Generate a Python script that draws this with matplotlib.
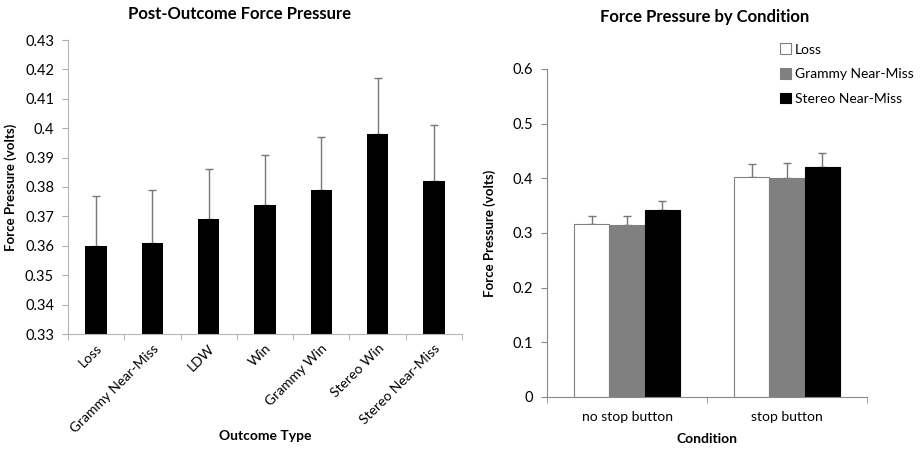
import numpy as np
import matplotlib
matplotlib.use('Agg')
import matplotlib.pyplot as plt

plt.rcParams['font.family'] = ['Lato', 'DejaVu Sans']

# Panel kiri: tekanan setelah hasil
outcome_types = ['Loss', 'Grammy Near-Miss', 'LDW', 'Win', 'Grammy Win', 'Stereo Win', 'Stereo Near-Miss']
outcome_means = [0.360, 0.361, 0.369, 0.374, 0.379, 0.398, 0.382]
outcome_err = [0.017, 0.018, 0.017, 0.017, 0.018, 0.019, 0.019]

# Panel kanan: tekanan per kondisi
conditions = ['no stop button', 'stop button']
series_names = ['Loss', 'Grammy Near-Miss', 'Stereo Near-Miss']
loss_vals = [0.317, 0.403]
grammy_vals = [0.315, 0.401]
stereo_vals = [0.342, 0.421]
loss_err = [0.015, 0.024]
grammy_err = [0.017, 0.027]
stereo_err = [0.017, 0.026]

fig = plt.figure(figsize=(9.21, 4.49), dpi=100)

# ---- kiri ----
ax1 = fig.add_axes([68/921, 1-334/449, (462-68)/921, (334-40)/449])
x1 = np.arange(len(outcome_types))
ax1.bar(x1, outcome_means, width=0.38, color='black', zorder=2)
ax1.errorbar(x1, outcome_means, yerr=[np.zeros(len(outcome_err)), outcome_err],
             fmt='none', ecolor='#777777', elinewidth=1, capsize=3, capthick=1, zorder=1)
ax1.set_ylim(0.33, 0.43)
ax1.set_xlim(-0.5, len(outcome_types) - 0.5)
ax1.set_yticks(np.arange(0.33, 0.4301, 0.01))
ax1.set_yticklabels(['0.33', '0.34', '0.35', '0.36', '0.37', '0.38', '0.39', '0.4', '0.41', '0.42', '0.43'])
ax1.set_xticks(x1)
ax1.set_xticklabels(outcome_types, rotation=45, ha='right', rotation_mode='anchor')
ax1.set_xticks(np.arange(-0.5, len(outcome_types)), minor=True)
ax1.tick_params(axis='x', which='major', length=0, labelsize=10, pad=6)
ax1.tick_params(axis='x', which='minor', length=4, color='#aaaaaa')
ax1.tick_params(axis='y', length=4, color='#aaaaaa', labelsize=10.5, pad=6)
for s in ['top', 'right']:
    ax1.spines[s].set_visible(False)
ax1.spines['left'].set_color('#b5b5b5')
ax1.spines['bottom'].set_color('#b5b5b5')
ax1.set_ylabel('Force Pressure (volts)', fontsize=9.5, fontweight='bold', labelpad=6)
fig.text(240/921, 1-14/449, 'Post-Outcome Force Pressure', ha='center', va='center',
         fontsize=12, fontweight='bold')
fig.text(265/921, 1-436/449, 'Outcome Type', ha='center', va='center',
         fontsize=10, fontweight='bold')

# ---- kanan ----
ax2 = fig.add_axes([547/921, 1-397/449, (867-547)/921, (397-69)/449])
x2 = np.arange(len(conditions))
w = 0.22
vals = [loss_vals, grammy_vals, stereo_vals]
errs = [loss_err, grammy_err, stereo_err]
colors = ['white', '#808080', 'black']
for i, (v, e, c, n) in enumerate(zip(vals, errs, colors, series_names)):
    pos = x2 + (i - 1) * w
    ax2.bar(pos, v, width=w, color=c, edgecolor='#808080' if c == 'white' else c,
            linewidth=0.8, label=n, zorder=2)
    ax2.errorbar(pos, v, yerr=[np.zeros(len(e)), e], fmt='none', ecolor='#777777',
                 elinewidth=1, capsize=3, capthick=1, zorder=1)
ax2.set_ylim(0, 0.6)
ax2.set_xlim(-0.5, len(conditions) - 0.5)
ax2.set_yticks([0, 0.1, 0.2, 0.3, 0.4, 0.5, 0.6])
ax2.set_yticklabels(['0', '0.1', '0.2', '0.3', '0.4', '0.5', '0.6'])
ax2.set_xticks(x2)
ax2.set_xticklabels(conditions)
ax2.set_xticks(np.arange(-0.5, len(conditions)), minor=True)
ax2.tick_params(axis='x', which='major', length=0, labelsize=10, pad=10)
ax2.tick_params(axis='x', which='minor', length=4, color='#888888')
ax2.tick_params(axis='y', length=4, color='#888888', labelsize=10.5, pad=6)
for s in ['top', 'right']:
    ax2.spines[s].set_visible(False)
ax2.spines['left'].set_color('#888888')
ax2.spines['bottom'].set_color('#888888')
ax2.set_ylabel('Force Pressure (volts)', fontsize=9.5, fontweight='bold', labelpad=12)
ax2.set_xlabel('Condition', fontsize=10, fontweight='bold', labelpad=7)
fig.text(705/921, 1-17/449, 'Force Pressure by Condition', ha='center', va='center',
         fontsize=12, fontweight='bold')
leg = ax2.legend(loc='upper left', bbox_to_anchor=(0.71, 1.095), frameon=False,
                 fontsize=10, handlelength=0.8, handleheight=0.8, handletextpad=0.3,
                 labelspacing=0.9, borderaxespad=0)

fig.savefig('out.png', dpi=100)
